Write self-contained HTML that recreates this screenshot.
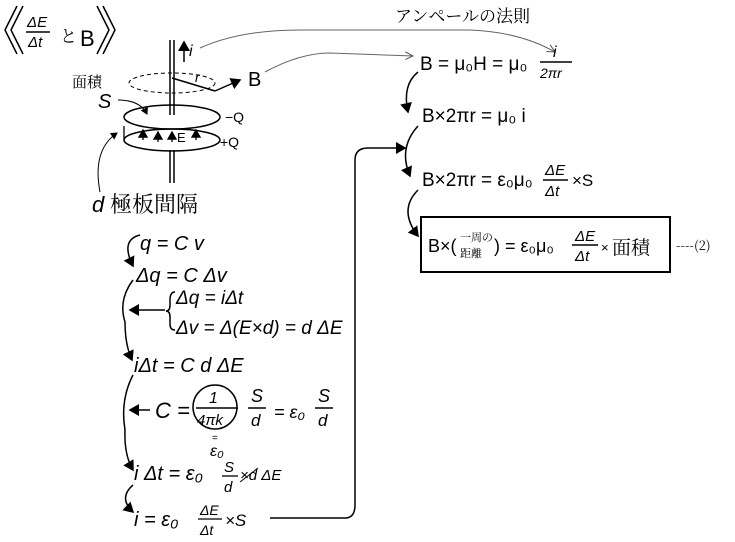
<!DOCTYPE html>
<html><head><meta charset="utf-8"><style>
html,body{margin:0;padding:0;background:#fff;}
svg{display:block;}
text{font-family:"Liberation Sans","Noto Sans CJK JP",sans-serif;fill:#000;font-style:italic;}
.j{font-family:"Noto Serif CJK SC","Noto Sans CJK JP",serif;font-style:normal;}
</style></head><body>
<svg width="735" height="542" viewBox="0 0 735 542" xmlns="http://www.w3.org/2000/svg">
<defs><marker id="a" markerWidth="8" markerHeight="8" refX="6" refY="4" orient="auto"><path d="M0,0 L7,4 L0,8 z" fill="#000"/></marker>
<marker id="o" markerWidth="10" markerHeight="8" refX="8" refY="4" orient="auto"><path d="M0,0 L8,4 L0,8" fill="none" stroke="#555"/></marker></defs>
<!-- title -->
<g fill="none" stroke="#000" stroke-width="1.5">
<path d="M17,6 L5,30 L17,54 M23,6 L11,30 L23,54"/>
<path d="M103,6 L115,30 L103,54 M97,6 L109,30 L97,54"/>
</g>
<text x="27" y="27" font-size="15">ΔE</text>
<line x1="26" y1="32" x2="50" y2="32" stroke="#000" stroke-width="1.5"/>
<text x="28" y="47" font-size="15">Δt</text>
<text x="60" y="42" font-size="17" class="j">と</text>
<text x="80" y="46" font-size="22" style="font-style:normal">B</text>
<!-- wire -->
<line x1="170" y1="40" x2="170" y2="115" stroke="#000" stroke-width="1.5"/>
<line x1="174" y1="40" x2="174" y2="115" stroke="#000" stroke-width="1.5"/>
<line x1="170" y1="150" x2="170" y2="183" stroke="#000" stroke-width="1.5"/>
<line x1="174" y1="150" x2="174" y2="183" stroke="#000" stroke-width="1.5"/>
<line x1="184" y1="62" x2="184" y2="42" stroke="#000" stroke-width="1.5" marker-end="url(#a)"/>
<text x="189" y="56" font-size="16">i</text>
<ellipse cx="172" cy="83" rx="43" ry="10" fill="none" stroke="#000" stroke-dasharray="4,3"/>
<line x1="172" y1="78" x2="215" y2="91" stroke="#000" stroke-width="1.5"/>
<text x="195" y="82" font-size="14">r</text>
<line x1="215" y1="91" x2="240" y2="80" stroke="#000" stroke-width="1.5" marker-end="url(#a)"/>
<text x="248" y="86" font-size="20" style="font-style:normal">B</text>
<ellipse cx="172" cy="117" rx="48" ry="12" fill="none" stroke="#000" stroke-width="1.5"/>
<ellipse cx="172" cy="140" rx="48" ry="11" fill="none" stroke="#000" stroke-width="1.5"/>
<text x="225" y="122" font-size="14" style="font-style:normal">−Q</text>
<text x="220" y="147" font-size="14" style="font-style:normal">+Q</text>
<g stroke="#000" stroke-width="1.3">
<line x1="143" y1="140" x2="143" y2="130" marker-end="url(#a)"/>
<line x1="158" y1="142" x2="158" y2="132" marker-end="url(#a)"/>
<line x1="172" y1="142" x2="172" y2="132" marker-end="url(#a)"/>
<line x1="196" y1="140" x2="196" y2="130" marker-end="url(#a)"/>
<line x1="124" y1="126" x2="124" y2="141"/></g>
<text x="177" y="142" font-size="13" style="font-style:normal">E</text>
<text x="72" y="87" font-size="15" class="j">面積</text>
<text x="98" y="108" font-size="20">S</text>
<path d="M118,100 Q140,100 147,114" fill="none" stroke="#000" marker-end="url(#a)"/>
<path d="M100,192 Q92,150 117,133" fill="none" stroke="#000" marker-end="url(#a)"/>
<text x="92" y="212" font-size="22">d</text>
<text x="110" y="212" font-size="22" class="j">極板間隔</text>
<!-- curves -->
<path d="M200,48 Q240,30 300,30 L470,30 Q520,32 555,52" fill="none" stroke="#666" marker-end="url(#o)"/>
<path d="M265,72 Q300,53 330,53 L413,56" fill="none" stroke="#666" marker-end="url(#o)"/>
<text x="395" y="22" font-size="17" class="j">アンペールの法則</text>
<!-- right equations -->
<text x="420" y="70" font-size="19" style="font-style:normal">B = μ₀H = μ₀</text>
<text x="553" y="57" font-size="16">i</text>
<line x1="540" y1="62" x2="572" y2="62" stroke="#000" stroke-width="1.5"/>
<text x="540" y="78" font-size="14">2πr</text>
<text x="422" y="122" font-size="19" style="font-style:normal">B×2πr = μ₀ i</text>
<text x="422" y="186" font-size="19" style="font-style:normal">B×2πr = ε₀μ₀</text>
<text x="545" y="175" font-size="15">ΔE</text>
<line x1="543" y1="180" x2="568" y2="180" stroke="#000" stroke-width="1.5"/>
<text x="545" y="196" font-size="15">Δt</text>
<text x="572" y="186" font-size="17" style="font-style:normal">×S</text>
<rect x="421" y="217" width="249" height="55" fill="none" stroke="#000" stroke-width="2"/>
<text x="428" y="252" font-size="18" style="font-style:normal">B×(</text>
<text x="460" y="241" font-size="11" class="j">一周の</text>
<text x="460" y="257" font-size="11" class="j">距離</text>
<text x="494" y="252" font-size="18" style="font-style:normal">) = ε₀μ₀</text>
<text x="575" y="241" font-size="15">ΔE</text>
<line x1="572" y1="245" x2="598" y2="245" stroke="#000" stroke-width="1.5"/>
<text x="575" y="261" font-size="15">Δt</text>
<text x="601" y="252" font-size="13" style="font-style:normal">×</text>
<text x="612" y="254" font-size="19" class="j">面積</text>
<text x="676" y="250" font-size="13" class="j">----(2)</text>
<g fill="none" stroke="#000" stroke-width="1.5">
<path d="M418,72 Q402,85 408,112" marker-end="url(#a)"/>
<path d="M418,126 Q398,148 410,176" marker-end="url(#a)"/>
<path d="M418,190 Q398,210 418,236" marker-end="url(#a)"/>
<path d="M270,518 L345,518 Q355,518 355,505 L355,160 Q355,148 368,148 L405,148" marker-end="url(#a)"/>
<path d="M140,235 Q120,240 133,266" marker-end="url(#a)"/>
<path d="M133,280 Q118,300 125,322 Q125,345 132,360" marker-end="url(#a)"/>
<path d="M165,310 L130,310" marker-end="url(#a)"/>
<path d="M133,375 Q120,400 125,430 Q124,455 133,470" marker-end="url(#a)"/>
<path d="M150,410 L130,410" marker-end="url(#a)"/>
<path d="M133,485 Q118,498 133,512" marker-end="url(#a)"/>
<path d="M175,292 Q170,292 170,300 L170,305 Q170,311 166,311 Q170,311 170,317 L170,324 Q170,330 175,330"/>
<circle cx="215" cy="407" r="22"/>
</g>
<!-- left equations -->
<text x="140" y="250" font-size="20">q = C v</text>
<text x="136" y="282" font-size="20">Δq = C Δv</text>
<text x="176" y="304" font-size="19">Δq = iΔt</text>
<text x="176" y="334" font-size="19">Δv = Δ(E×d) = d ΔE</text>
<text x="134" y="372" font-size="20">iΔt = C d ΔE</text>
<text x="155" y="418" font-size="22">C =</text>
<text x="209" y="403" font-size="16">1</text>
<line x1="196" y1="408" x2="238" y2="408" stroke="#000" stroke-width="1.5"/>
<text x="197" y="425" font-size="15">4πk</text>
<text x="251" y="402" font-size="18">S</text>
<line x1="248" y1="408" x2="266" y2="408" stroke="#000" stroke-width="1.5"/>
<text x="251" y="426" font-size="17">d</text>
<text x="274" y="418" font-size="18">= ε₀</text>
<text x="318" y="402" font-size="18">S</text>
<line x1="315" y1="408" x2="333" y2="408" stroke="#000" stroke-width="1.5"/>
<text x="318" y="426" font-size="17">d</text>
<text x="212" y="441" font-size="10" style="font-style:normal">=</text>
<text x="210" y="456" font-size="16">ε₀</text>
<text x="134" y="480" font-size="20">i Δt = ε₀</text>
<text x="224" y="472" font-size="15">S</text>
<line x1="222" y1="476" x2="238" y2="476" stroke="#000" stroke-width="1.3"/>
<text x="224" y="492" font-size="15">d</text>
<text x="240" y="480" font-size="15">×d ΔE</text>
<line x1="240" y1="482" x2="258" y2="468" stroke="#000"/>
<text x="134" y="526" font-size="20">i = ε₀</text>
<text x="200" y="515" font-size="14">ΔE</text>
<line x1="198" y1="519" x2="222" y2="519" stroke="#000" stroke-width="1.3"/>
<text x="200" y="535" font-size="14">Δt</text>
<text x="225" y="526" font-size="17">×S</text>
</svg>
</body></html>
